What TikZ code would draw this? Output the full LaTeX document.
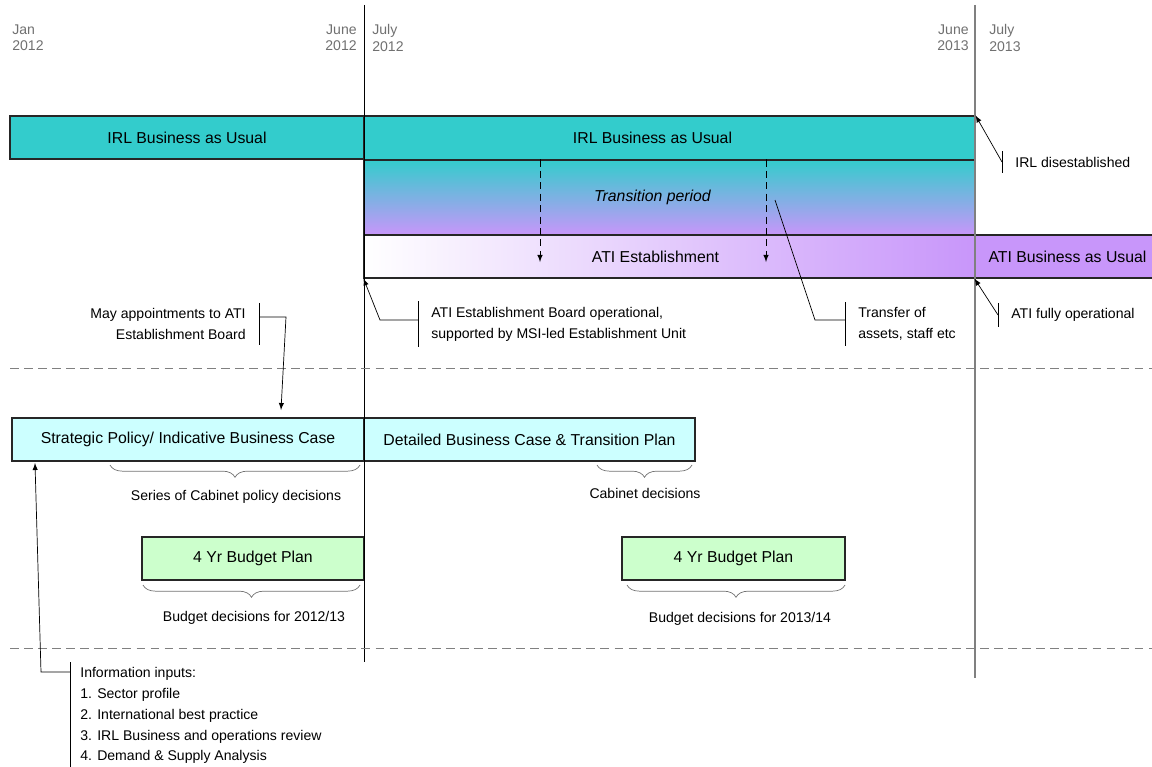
\documentclass[tikz,border=0pt]{standalone}
\usepackage{fontspec}
\setmainfont{Liberation Sans}
\usetikzlibrary{positioning,calc,decorations.pathreplacing,arrows.meta}
\tikzset{>=latex}

\definecolor{irlteal}{HTML}{33CCCC}
\definecolor{atipurple}{HTML}{C896FA}
\definecolor{policycyan}{HTML}{CCFFFF}
\definecolor{budgetgreen}{HTML}{CCFFCC}
\definecolor{datelabel}{HTML}{707070}

\tikzset{
  bar/.style={draw=black!85, semithick, inner sep=0pt, font=\fontsize{9}{11}\selectfont},
  datelbl/.style={text=datelabel, inner sep=0pt, font=\fontsize{8}{9.6}\selectfont},
  callout/.style={inner xsep=2.6mm, inner ysep=3pt, font=\fontsize{8}{11.8}\selectfont},
  note/.style={inner sep=0pt, font=\fontsize{8}{11.8}\selectfont},
  lead/.style={draw=black, thin},
  migrate/.style={->, thin, dash pattern=on 4pt off 2.5pt},
  decbrace/.style={decorate, decoration={brace, mirror, amplitude=7pt}, draw=black!55},
  divider/.style={draw=gray, dash pattern=on 5pt off 3pt},
  milestone/.style={draw=black, thin}
}

\begin{document}
\begin{tikzpicture}[x=0.2mm, y=-0.2mm]
  % pixel grid of the page, y runs downwards
  \useasboundingbox (0,0) rectangle (1152,766);

  % --- 1. Date markers ---
  \node[datelbl, anchor=north west, align=left]  (jan12)  at (12,24)  {Jan\\2012};
  \node[datelbl, anchor=north east, align=right] (june12) at (357,24) {June\\2012};
  \node[datelbl, anchor=north west, align=left]  (july12) at (372,24) {July\\2012};
  \node[datelbl, anchor=north east, align=right] (june13) at (969,24) {June\\2013};
  \node[datelbl, anchor=north west, align=left]  (july13) at (989,24) {July\\2013};

  % --- 2. IRL and ATI bars ---
  % (trailing space pulls the label a little left of the bar centre)
  \node[bar, fill=irlteal, minimum width=70.8mm, minimum height=8.6mm] (irlA) at (187,137.5) {IRL Business as Usual};
  \node[bar, fill=irlteal, minimum width=122.2mm, minimum height=8.8mm] (irlB) at (669.5,138) {IRL Business as Usual\hspace*{6.8mm}};
  \node[bar, top color=irlteal, bottom color=atipurple, minimum width=122.2mm, minimum height=15mm] (trans) at (669.5,197.5) {\itshape Transition period\hspace*{6.8mm}};
  \node[bar, left color=white, right color=atipurple, minimum width=122.2mm, minimum height=8.6mm] (estab) at (669.5,256.5) {ATI Establishment\hspace*{5.6mm}};
  \node[bar, fill=atipurple, minimum width=37mm, minimum height=8.6mm] (atiBAU) at (1067.5,256.5) {ATI Business as Usual};

  % functions moving across during transition
  \coordinate (mv1) at (540,262);
  \coordinate (mv2) at (766,262);
  \draw[migrate] (trans.north -| mv1) -- (mv1);
  \draw[migrate] (trans.north -| mv2) -- (mv2);

  % --- 3. Policy and budget boxes ---
  \node[bar, fill=policycyan, minimum width=70.4mm, minimum height=8.6mm] (policy) at (188,439.5) {Strategic Policy/ Indicative Business Case};
  \node[bar, fill=policycyan, minimum width=66.2mm, minimum height=8.6mm] (detail) at (529.5,439.5) {Detailed Business Case \& Transition Plan};
  \node[bar, fill=budgetgreen, minimum width=44.4mm, minimum height=8.6mm] (budgetA) at (253,558.5) {4 Yr Budget Plan};
  \node[bar, fill=budgetgreen, minimum width=44.6mm, minimum height=8.6mm] (budgetB) at (733.5,558.5) {4 Yr Budget Plan};

  % decision braces
  \draw[decbrace] (110,465) -- (360,465);
  \node[note] (cabPolicy) at (236,497) {Series of Cabinet policy decisions};
  \draw[decbrace] (597,465) -- (692,465);
  \node[note] (cabDec) at (645,493) {Cabinet decisions};
  \draw[decbrace] (143,585) -- (360,585);
  \node[note] (budDecA) at (254,618) {Budget decisions for 2012/13};
  \draw[decbrace] (627,585) -- (845,585);
  \node[note] (budDecB) at (740,619) {Budget decisions for 2013/14};

  % --- 4. Milestone lines and dividers ---
  \draw[milestone] (364,5) -- (364,662);
  \draw[gray, line width=1.1pt] (975,5) -- (975,678);
  \draw[divider] (10,368) -- (1152,368);
  \draw[divider] (10,648) -- (1152,648);

  % --- 5. Callouts ---
  \node[callout, anchor=west, align=left] (goneNote) at (1002,162) {IRL disestablished};
  \draw[lead] (goneNote.north west) -- (goneNote.south west);
  \draw[lead,->] (goneNote.west) -- (irlB.north east);

  \node[callout, anchor=west, align=left] (fullNote) at (998,315) {ATI fully operational};
  \draw[lead] (fullNote.north west) -- (fullNote.south west);
  \draw[lead,->] (fullNote.west) -- (atiBAU.south west);

  \node[callout, anchor=west, align=left] (xferNote) at (845,324) {Transfer of\\assets, staff etc};
  \draw[lead] (xferNote.north west) -- (xferNote.south west);
  \coordinate (xferTail) at (775,200);
  \coordinate (xferKnee) at (815,320);
  \draw[lead] (xferTail) -- (xferKnee) -- (xferKnee -| xferNote.west);

  \node[callout, anchor=west, align=left] (boardNote) at (418,324) {ATI Establishment Board operational,\\supported by MSI-led Establishment Unit};
  \draw[lead] (boardNote.north west) -- (boardNote.south west);
  \coordinate (boardKnee) at (380,320);
  \draw[lead,->] (boardKnee -| boardNote.west) -- (boardKnee) -- (estab.south west);

  \node[callout, anchor=east, align=right] (mayNote) at (259,324) {May appointments to ATI\\Establishment Board};
  \draw[lead] (mayNote.north east) -- (mayNote.south east);
  \coordinate (mayKnee) at (286,317);
  \coordinate (mayTip) at (281,410);
  \draw[lead,->] (mayKnee -| mayNote.east) -- (mayKnee) -- (mayTip);

  \node[callout, anchor=north west, align=left, inner xsep=2mm] (inputsNote) at (70,662)
    {Information inputs:\\1. Sector profile\\2. International best practice\\3. IRL Business and operations review\\4. Demand \& Supply Analysis};
  \draw[lead] (inputsNote.north west) -- (inputsNote.south west);
  \coordinate (inputsKnee) at (41,672);
  \coordinate (inputsTip) at (35,463);
  \draw[lead,->] (inputsKnee -| inputsNote.west) -- (inputsKnee) -- (inputsTip);
\end{tikzpicture}
\end{document}
